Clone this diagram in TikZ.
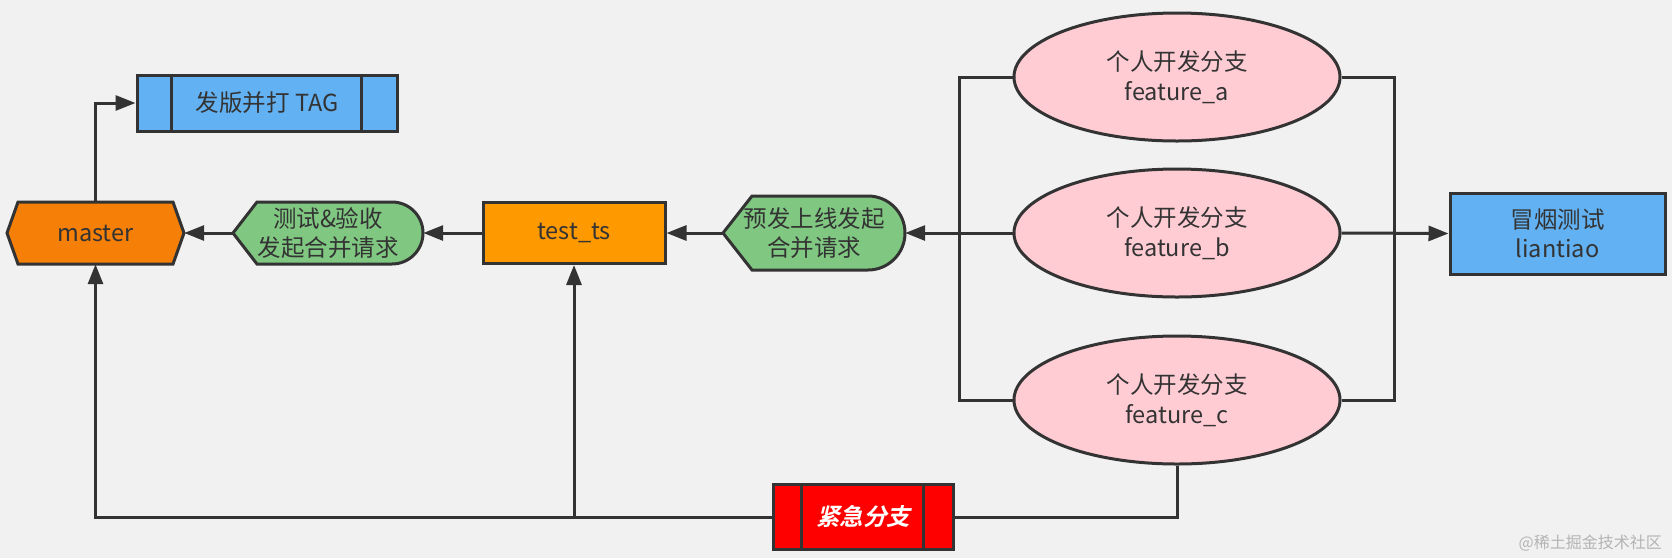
\documentclass[tikz,border=0pt]{standalone}
\usepackage{fontspec}
\setmainfont{Noto Sans CJK SC}
\newfontfamily\cjkbold[FakeSlant=0.25]{Noto Sans CJK SC Bold}
\usetikzlibrary{arrows.meta,shapes.geometric}
\definecolor{bg}{HTML}{F1F1F1}
\definecolor{ln}{HTML}{333333}
\definecolor{txt}{HTML}{333333}
\definecolor{blueb}{HTML}{62B1F2}
\definecolor{mast}{HTML}{F57F07}
\definecolor{orng}{HTML}{FF9900}
\definecolor{grn}{HTML}{80C882}
\definecolor{pink}{HTML}{FFCCD4}
\definecolor{redb}{HTML}{FF0000}
\definecolor{wm}{HTML}{B4B4B4}
\tikzset{
  lbl/.style={font=\fontsize{23.5}{29.5}\selectfont, text=txt, align=center, inner sep=0pt},
  boxn/.style={lbl, draw=ln, line width=3pt, rectangle},
  plainn/.style={lbl, rectangle},
  ell/.style={lbl, draw=ln, line width=3pt, ellipse, fill=pink, minimum width=326pt, minimum height=128pt},
  outline/.style={draw=ln, line width=3pt, line join=miter},
  conn/.style={draw=ln, line width=3pt},
  arr/.style={conn, -{Triangle[length=20pt,width=15pt]}},
}
\begin{document}
\begin{tikzpicture}[x=1pt,y=-1pt]
\useasboundingbox (0,0) rectangle (1672,558);
\fill[bg] (0,0) rectangle (1672,558);

% master hexagon
\path[outline, fill=mast] (7,233) -- (18,202) -- (173,202) -- (184,233) -- (173,264) -- (18,264) -- cycle;
\node[plainn, minimum width=177pt, minimum height=62pt] (master) at (95.5,233) {master};

% green 1
\path[outline, fill=grn] (257,264) -- (233,233) -- (257,202) [rounded corners=31pt] -- (423,202) -- (423,264) [sharp corners] -- cycle;
\node[plainn, minimum width=190pt, minimum height=62pt] (g1) at (328,233) {测试\&验收\\发起合并请求};

% test_ts
\node[boxn, fill=orng, minimum width=182pt, minimum height=61pt] (test) at (574,233) {test\_ts};

% green 2
\path[outline, fill=grn] (752,270) -- (723,233) -- (752,196) [rounded corners=37pt] -- (905,196) -- (905,270) [sharp corners] -- cycle;
\node[plainn, minimum width=182pt, minimum height=74pt] (g2) at (814,233) {预发上线发起\\合并请求};

% TAG box
\node[boxn, fill=blueb, minimum width=260pt, minimum height=56pt] (tag) at (267,103) {发版并打 TAG};
\draw[conn] ([xshift=36pt]tag.north west) -- ([xshift=36pt]tag.south west);
\draw[conn] ([xshift=-37pt]tag.north east) -- ([xshift=-37pt]tag.south east);

% feature ellipses
\node[ell] (ea) at (1177,77) {个人开发分支\\feature\_a};
\node[ell] (eb) at (1177,233) {个人开发分支\\feature\_b};
\node[ell] (ec) at (1177,400) {个人开发分支\\feature\_c};

% liantiao
\node[boxn, fill=blueb, minimum width=215pt, minimum height=81pt] (lt) at (1557.5,233.5) {冒烟测试\\liantiao};

% red box
\node[boxn, fill=redb, minimum width=180pt, minimum height=65pt, text=white] (red) at (863,517) {\cjkbold 紧急分支};
\draw[conn] ([xshift=30pt]red.north west) -- ([xshift=30pt]red.south west);
\draw[conn] ([xshift=-31pt]red.north east) -- ([xshift=-31pt]red.south east);

% junctions
\coordinate (lb) at (959,233);
\coordinate (rb) at (1394,233);

% connectors
\draw[arr] (master.north) |- (tag.west);
\draw[arr] (g1.west) -- (master.east);
\draw[arr] (test.west) -- (g1.east);
\draw[arr] (g2.west) -- (test.east);
\draw[conn] (ea.west) -| (lb);
\draw[conn] (ec.west) -| (lb);
\draw[arr] (eb.west) -- (g2.east);
\draw[conn] (ea.east) -| (rb);
\draw[conn] (ec.east) -| (rb);
\draw[arr] (eb.east) -- (lt.west);
\draw[conn] (ec.south) |- (red.east);
\draw[arr] (red.west) -| (master.south);
\draw[arr] (red.west) -| (test.south);

% watermark
\node[font=\fontsize{16}{18}\selectfont, text=wm, inner sep=0pt, anchor=east] (wmk) at (1662,543) {@稀土掘金技术社区};
\end{tikzpicture}
\end{document}
